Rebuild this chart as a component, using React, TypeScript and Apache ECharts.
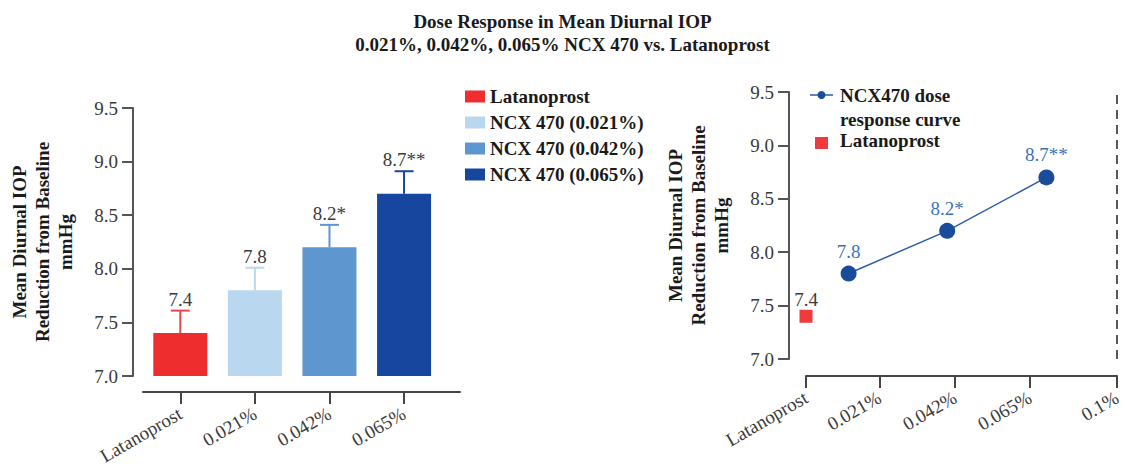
import React, { useEffect, useRef } from "react";
import * as echarts from "echarts";

// ---- Data ----
const barCategories = ["Latanoprost", "0.021%", "0.042%", "0.065%"];
const barSeriesNames = ["Latanoprost", "NCX 470 (0.021%)", "NCX 470 (0.042%)", "NCX 470 (0.065%)"];
const meanReduction = [7.4, 7.8, 8.2, 8.7];
const errorUpper = [7.61, 8.01, 8.41, 8.91];
const barValueLabels = ["7.4", "7.8", "8.2*", "8.7**"];

const doseTickLabels = ["Latanoprost", "0.021%", "0.042%", "0.065%", "0.1%"];
const doseTickPos = [0, 0.236, 0.479, 0.72, 1];
const curveX = [0.137, 0.454, 0.773];
const curveY = [7.8, 8.2, 8.7];
const curveLabels = ["7.8", "8.2*", "8.7**"];
const latanoprostX = [0];
const latanoprostY = [7.4];
const latanoprostLabels = ["7.4"];
const refLineX = 1;

const yMin = 7.0;
const yMax = 9.5;
const yStep = 0.5;

// ---- Styles ----
const FONT = "Liberation Serif";
const barColors = ["#EE2E2E", "#B9D7EE", "#5E96CF", "#17469E"];
const errColors = ["#E8474F", "#B9D7EE", "#5E96CF", "#17469E"];
const axisGray = "#555555";
const textGray = "#3a3a3a";
const curveDot = "#1B4C9C";
const curveLine = "#2A5DAB";
const curveLabel = "#3A73BA";
const latRed = "#EE3B3B";

export default function App() {
  const ref = useRef<HTMLDivElement>(null);

  useEffect(() => {
    if (!ref.current) return;
    const chart = echarts.init(ref.current, undefined, { renderer: "svg" });

    const yAxisBase = (gridIndex: number, offset: number) => ({
      type: "value",
      gridIndex,
      min: yMin,
      max: yMax,
      interval: yStep,
      offset,
      name: "Mean Diurnal IOP\nReduction from Baseline\nmmHg",
      nameLocation: "middle",
      nameRotate: 90,
      nameGap: 56,
      nameTextStyle: {
        fontFamily: FONT,
        fontWeight: "bold",
        fontSize: 19,
        lineHeight: 23,
        color: "#1a1a1a",
        align: "center",
      },
      splitLine: { show: false },
      axisLine: { show: true, onZero: false, lineStyle: { color: axisGray, width: 2 } },
      axisTick: { show: true, length: 11, lineStyle: { color: axisGray, width: 2 } },
      axisLabel: {
        margin: 15,
        fontFamily: FONT,
        fontSize: 19,
        color: textGray,
        formatter: (v: number) => v.toFixed(1),
      },
    });

    const option: any = {
      animation: false,
      backgroundColor: "#ffffff",
      title: {
        text: "Dose Response in Mean Diurnal IOP\n0.021%, 0.042%, 0.065% NCX 470 vs. Latanoprost",
        left: "center",
        top: 5,
        textStyle: {
          fontFamily: FONT,
          fontWeight: "bold",
          fontSize: 19,
          lineHeight: 23,
          color: "#1a1a1a",
          align: "center",
        },
      },
      legend: {
        orient: "vertical",
        left: 460,
        top: 82,
        itemWidth: 20,
        itemHeight: 12,
        itemGap: 7,
        icon: "rect",
        selectedMode: false,
        data: barSeriesNames,
        textStyle: {
          fontFamily: FONT,
          fontWeight: "bold",
          fontSize: 19,
          lineHeight: 19,
          color: "#1a1a1a",
        },
      },
      grid: [
        { left: 143, right: 665, top: 108, bottom: 93 },
        { left: 806, right: 8, top: 92, bottom: 110 },
      ],
      xAxis: [
        {
          type: "value",
          gridIndex: 0,
          min: -0.5,
          max: 3.75,
          offset: 16,
          splitLine: { show: false },
          axisLine: { show: true, onZero: false, lineStyle: { color: "#444", width: 2 } },
          axisTick: {
            show: true,
            length: 12,
            customValues: barCategories.map((_, i) => i),
            lineStyle: { color: "#444", width: 2 },
          },
          axisLabel: {
            customValues: barCategories.map((_, i) => i),
            rotate: 30,
            margin: 20,
            fontFamily: FONT,
            fontSize: 19,
            color: textGray,
            formatter: (v: number) => barCategories[Math.round(v)] ?? "",
          },
        },
        {
          type: "value",
          gridIndex: 1,
          min: 0,
          max: 1,
          offset: 17,
          splitLine: { show: false },
          axisLine: { show: true, onZero: false, lineStyle: { color: "#444", width: 2 } },
          axisTick: {
            show: true,
            length: 12,
            customValues: doseTickPos,
            lineStyle: { color: "#444", width: 2 },
          },
          axisLabel: {
            customValues: doseTickPos,
            rotate: 30,
            margin: 20,
            fontFamily: FONT,
            fontSize: 19,
            color: textGray,
            formatter: (v: number) => {
              const i = doseTickPos.findIndex((p) => Math.abs(p - v) < 1e-6);
              return i >= 0 ? doseTickLabels[i] : "";
            },
          },
        },
      ],
      yAxis: [yAxisBase(0, 10), yAxisBase(1, 17)],
      series: [
        ...barSeriesNames.map((name, i) => ({
          type: "bar",
          name,
          xAxisIndex: 0,
          yAxisIndex: 0,
          barWidth: 54,
          barGap: "-100%",
          clip: true,
          itemStyle: { color: barColors[i] },
          data: [[i, meanReduction[i]]],
        })),
        {
          type: "custom",
          name: "error",
          xAxisIndex: 0,
          yAxisIndex: 0,
          silent: true,
          z: 5,
          data: meanReduction.map((v, i) => [i, v, errorUpper[i]]),
          renderItem: (params: any, api: any) => {
            const i = params.dataIndex;
            const base = api.coord([api.value(0), api.value(1)]);
            const top = api.coord([api.value(0), api.value(2)]);
            const half = 9.5;
            const style = { stroke: errColors[i], lineWidth: 2 };
            return {
              type: "group",
              children: [
                { type: "line", shape: { x1: base[0], y1: base[1], x2: top[0], y2: top[1] }, style },
                { type: "line", shape: { x1: top[0] - half, y1: top[1], x2: top[0] + half, y2: top[1] }, style },
                {
                  type: "text",
                  x: top[0],
                  y: top[1] - 2,
                  style: {
                    text: barValueLabels[i],
                    fontFamily: FONT,
                    fontSize: 19,
                    fill: textGray,
                    align: "center",
                    verticalAlign: "bottom",
                  },
                },
              ],
            };
          },
        },
        {
          type: "line",
          name: "NCX470 dose response curve",
          xAxisIndex: 1,
          yAxisIndex: 1,
          symbol: "circle",
          symbolSize: 16,
          itemStyle: { color: curveDot },
          lineStyle: { color: curveLine, width: 1.5 },
          label: {
            show: true,
            position: "top",
            distance: 5,
            fontFamily: FONT,
            fontSize: 19,
            color: curveLabel,
            formatter: (p: any) => curveLabels[p.dataIndex],
          },
          data: curveX.map((x, i) => [x, curveY[i]]),
          markLine: {
            silent: true,
            symbol: "none",
            label: { show: false },
            lineStyle: { color: "#222", type: [9, 6], width: 1.5 },
            data: [{ xAxis: refLineX }],
          },
        },
        {
          type: "scatter",
          name: "Latanoprost",
          xAxisIndex: 1,
          yAxisIndex: 1,
          symbol: "rect",
          symbolSize: 13,
          itemStyle: { color: latRed, opacity: 1 },
          label: {
            show: true,
            position: "top",
            distance: 1,
            fontFamily: FONT,
            fontSize: 19,
            color: textGray,
            formatter: (p: any) => latanoprostLabels[p.dataIndex],
          },
          data: latanoprostX.map((x, i) => [x, latanoprostY[i]]),
        },
      ],
      graphic: [
        { type: "line", shape: { x1: 810, y1: 95, x2: 833, y2: 95 }, style: { stroke: curveLine, lineWidth: 1.5 } },
        { type: "circle", shape: { cx: 821.5, cy: 95, r: 4 }, style: { fill: curveDot } },
        {
          type: "text",
          top: 83,
          left: 840,
          style: {
            text: "NCX470 dose\nresponse curve",
            fontFamily: FONT,
            fontWeight: "bold",
            fontSize: 19,
            lineHeight: 24,
            fill: "#1a1a1a",
          },
        },
        { type: "rect", shape: { x: 815, y: 137, width: 13, height: 12 }, style: { fill: latRed } },
        {
          type: "text",
          left: 840,
          top: 131,
          style: {
            text: "Latanoprost",
            fontFamily: FONT,
            fontWeight: "bold",
            fontSize: 19,
            fill: "#1a1a1a",
          },
        },
      ],
    };

    chart.setOption(option);
    return () => chart.dispose();
  }, []);

  return (
    <div
      ref={ref}
      style={{ position: "fixed", left: 0, top: 0, width: 1125, height: 469, background: "#fff" }}
    />
  );
}
